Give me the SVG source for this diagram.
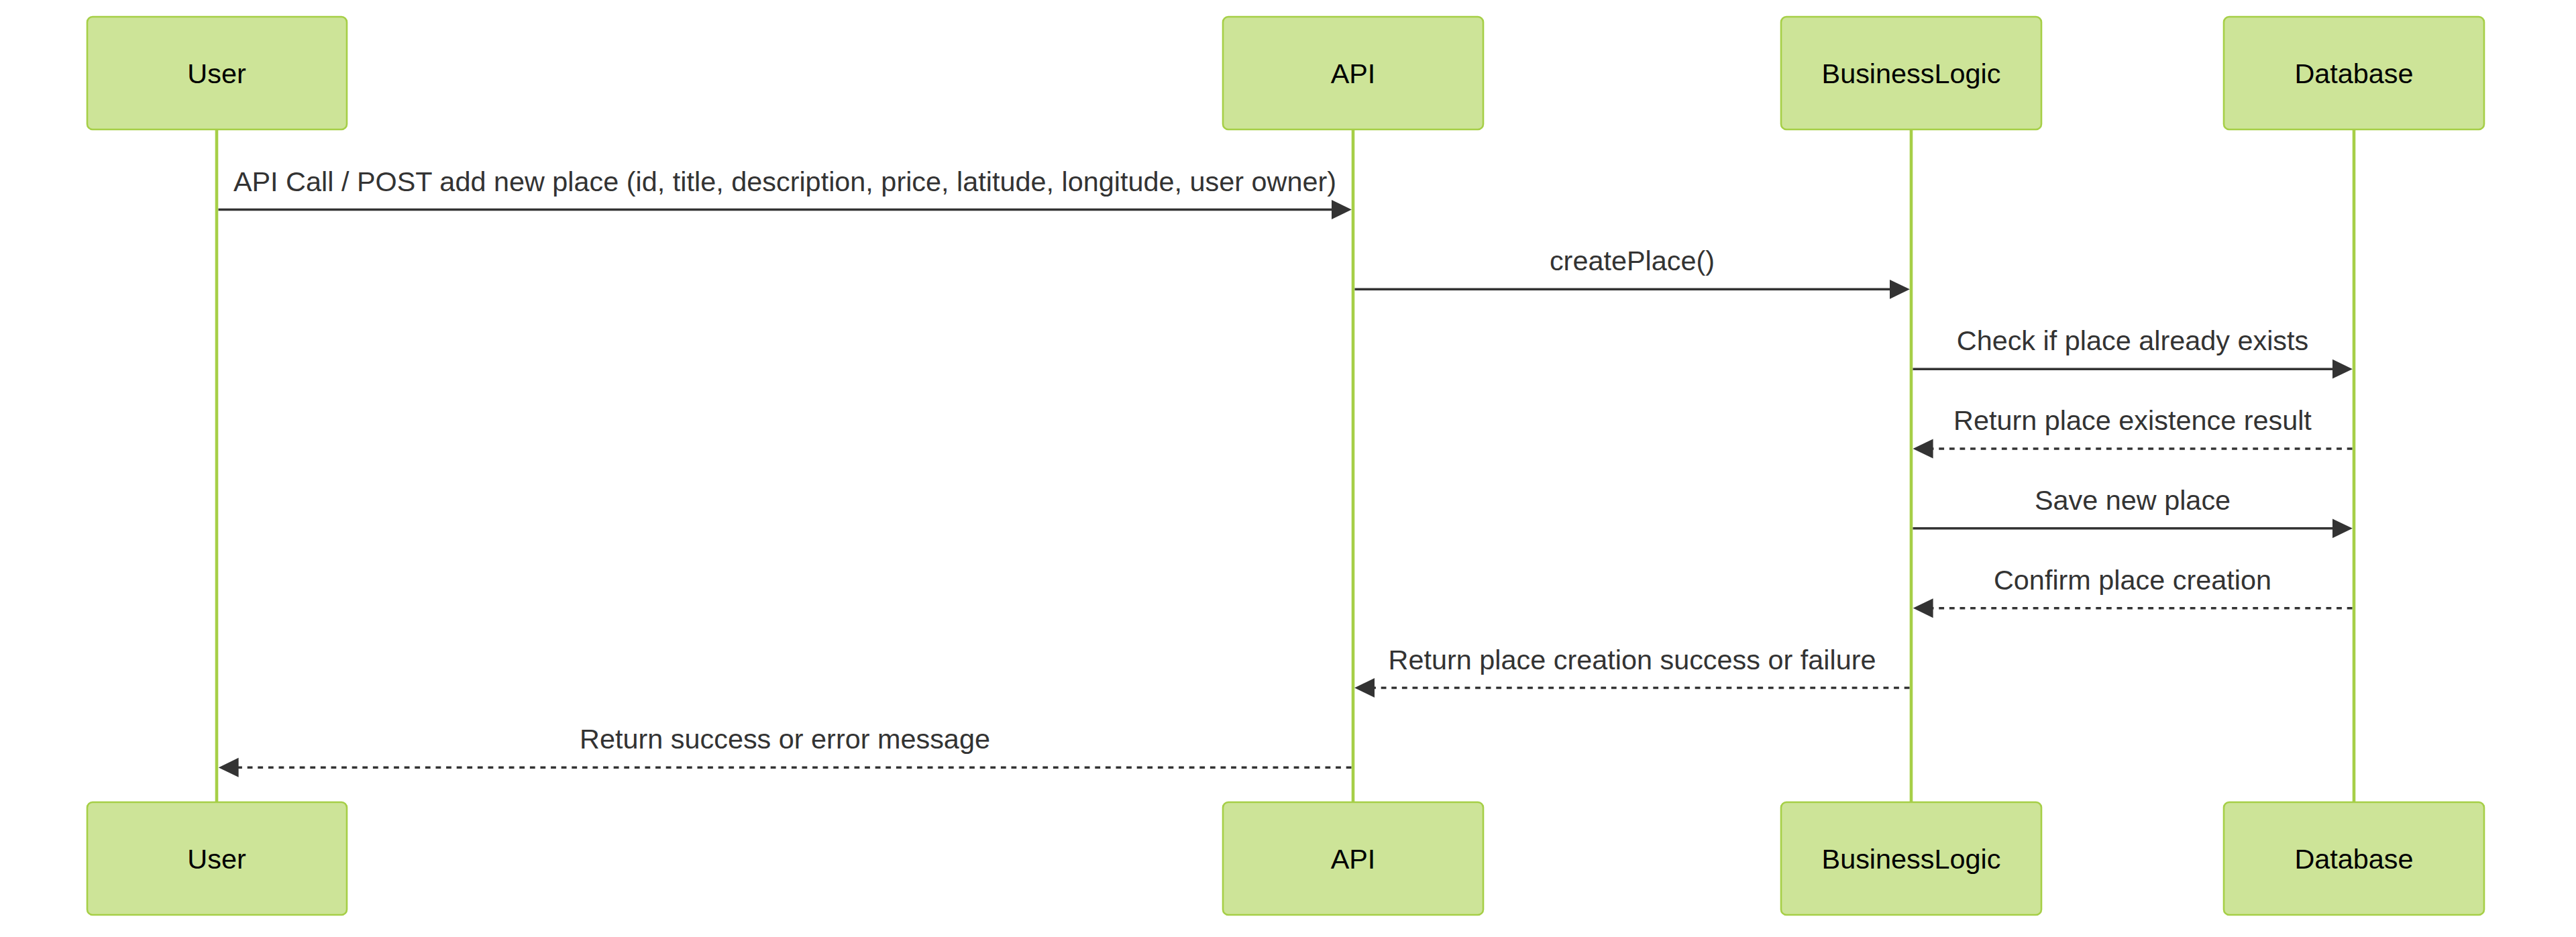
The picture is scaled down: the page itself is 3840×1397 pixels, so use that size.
<svg xmlns="http://www.w3.org/2000/svg" width="3840" height="1397" viewBox="0 0 3840 1397">
<defs>
<style>
.actor rect{fill:#cde498;stroke:#a6cf47;stroke-width:2.6}
.actor text{font-family:"Liberation Sans",Arial,sans-serif;font-size:41.4px;fill:#000;text-anchor:middle}
.life{stroke:#a6cf47;stroke-width:4.6}
.msg{stroke:#333;stroke-width:3.4;fill:none;marker-end:url(#head)}
.dot{stroke-dasharray:7.8 7.8}
.lbl{font-family:"Liberation Sans",Arial,sans-serif;font-size:41.4px;fill:#333;text-anchor:middle}
</style>
<marker id="head" markerUnits="userSpaceOnUse" markerWidth="30" markerHeight="30" viewBox="0 0 28 27" refX="23" refY="13.5" orient="auto">
<path d="M0,0 L28,13.5 L0,27 z" fill="#333"/>
</marker>
</defs>
<rect width="3840" height="1397" fill="#fff"/>
<g id="lifelines">
<line class="life" x1="323" y1="193" x2="323" y2="1197"/>
<line class="life" x1="2017" y1="193" x2="2017" y2="1197"/>
<line class="life" x1="2849" y1="193" x2="2849" y2="1197"/>
<line class="life" x1="3509" y1="193" x2="3509" y2="1197"/>
</g>
<g id="actor-user-top" class="actor"><rect x="130" y="25" width="387" height="168" rx="8"/><text x="323" y="124">User</text></g>
<g id="actor-api-top" class="actor"><rect x="1823" y="25" width="388" height="168" rx="8"/><text x="2017" y="124">API</text></g>
<g id="actor-bl-top" class="actor"><rect x="2655" y="25" width="388" height="168" rx="8"/><text x="2849" y="124">BusinessLogic</text></g>
<g id="actor-db-top" class="actor"><rect x="3315" y="25" width="388" height="168" rx="8"/><text x="3509" y="124">Database</text></g>
<g id="actor-user-bottom" class="actor"><rect x="130" y="1196" width="387" height="168" rx="8"/><text x="323" y="1295">User</text></g>
<g id="actor-api-bottom" class="actor"><rect x="1823" y="1196" width="388" height="168" rx="8"/><text x="2017" y="1295">API</text></g>
<g id="actor-bl-bottom" class="actor"><rect x="2655" y="1196" width="388" height="168" rx="8"/><text x="2849" y="1295">BusinessLogic</text></g>
<g id="actor-db-bottom" class="actor"><rect x="3315" y="1196" width="388" height="168" rx="8"/><text x="3509" y="1295">Database</text></g>
<g id="connectors">
<line class="msg" x1="325.5" y1="312.5" x2="2009.5" y2="312.5"/>
<line class="msg" x1="2019.5" y1="431.3" x2="2841.5" y2="431.3"/>
<line class="msg" x1="2851.5" y1="550.2" x2="3501.5" y2="550.2"/>
<line class="msg dot" x1="3506.5" y1="669" x2="2857" y2="669"/>
<line class="msg" x1="2851.5" y1="787.8" x2="3501.5" y2="787.8"/>
<line class="msg dot" x1="3506.5" y1="906.7" x2="2857" y2="906.7"/>
<line class="msg dot" x1="2846.5" y1="1025.5" x2="2024.5" y2="1025.5"/>
<line class="msg dot" x1="2014.5" y1="1144.3" x2="331" y2="1144.3"/>
</g>
<g id="labels">
<text class="lbl" x="1170" y="284.5">API Call / POST add new place (id, title, description, price, latitude, longitude, user owner)</text>
<text class="lbl" x="2433" y="403.3">createPlace()</text>
<text class="lbl" x="3179" y="522.2">Check if place already exists</text>
<text class="lbl" x="3179" y="641">Return place existence result</text>
<text class="lbl" x="3179" y="759.8">Save new place</text>
<text class="lbl" x="3179" y="878.7">Confirm place creation</text>
<text class="lbl" x="2433" y="997.5">Return place creation success or failure</text>
<text class="lbl" x="1170" y="1116.3">Return success or error message</text>
</g>
</svg>
